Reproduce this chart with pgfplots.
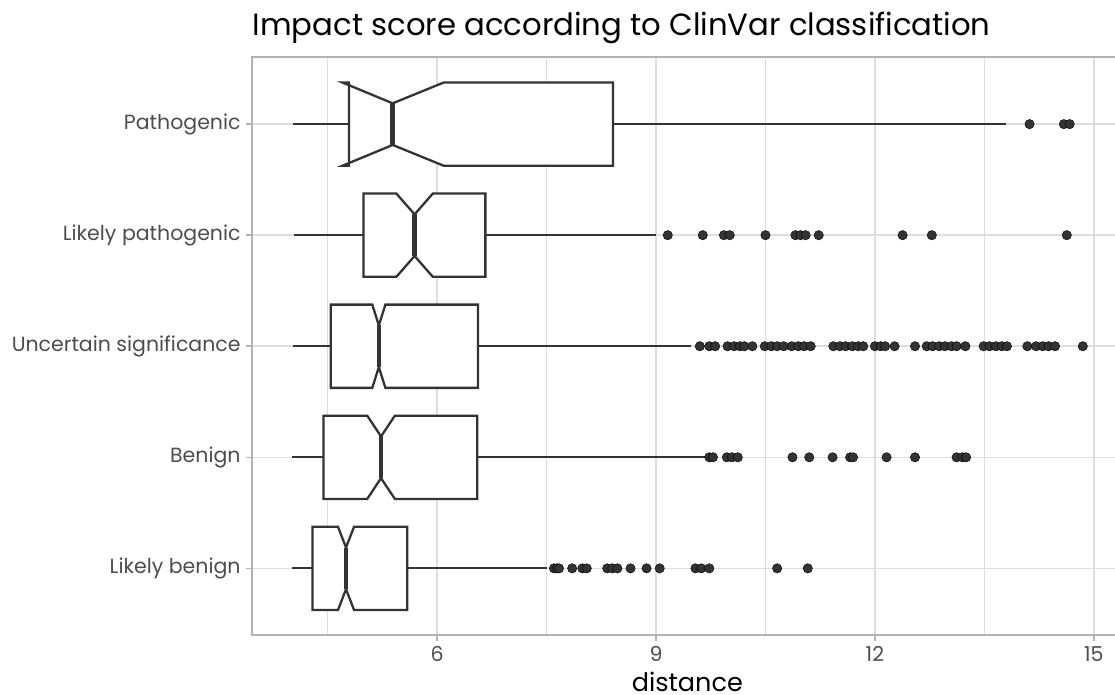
\documentclass[border=0pt]{standalone}
\usepackage{fontspec}
\setmainfont{Poppins}
\usepackage{pgfplots}
\pgfplotsset{compat=1.18}
\definecolor{g20}{HTML}{333333}
\definecolor{g30}{HTML}{4D4D4D}
\definecolor{g70}{HTML}{B3B3B3}
\definecolor{g87}{HTML}{DEDEDE}
\pgfplotsset{
  boxline/.style={draw=g20, fill=white, line width=2.3pt, line join=miter},
  whisk/.style={draw=g20, line width=2.2pt, forget plot},
  med/.style={draw=g20, line width=4.5pt},
  outl/.style={only marks, mark=*, mark size=4.7pt, mark options={fill=g20, draw=none}, draw=none},
}
\begin{document}
\begin{tikzpicture}
\useasboundingbox (-252.5pt,-60pt) rectangle (862.5pt,635pt);
\clip (-252.5pt,-60pt) rectangle (862.5pt,635pt);
\begin{axis}[
  at={(0pt,0pt)}, anchor=south west,
  scale only axis, width=869.7pt, height=577.5pt,
  xmin=3.468, xmax=15.39, ymin=0.4, ymax=5.6,
  axis line style={draw=g70, line width=2pt},
  xtick={6,9,12,15}, minor xtick={4.5,7.5,10.5,13.5},
  ytick={1,2,3,4,5},
  yticklabels={Likely benign, Benign, Uncertain significance, Likely pathogenic, Pathogenic},
  xmajorgrids, xminorgrids, ymajorgrids,
  major grid style={draw=g87, line width=1.6pt},
  minor grid style={draw=g87, line width=0.8pt},
  tick align=outside, tick pos=left,
  major tick length=6.2pt, minor tick length=0pt,
  tick style={draw=g70, line width=1.6pt},
  /pgf/number format/assume math mode=true,
  ticklabel style={font=\fontsize{20.5}{24}\selectfont, text=g30},
  xticklabel style={anchor=north, inner sep=0pt, yshift=-5pt},
  yticklabel style={anchor=east, inner sep=0pt, xshift=-5.5pt},
  title={Impact score according to ClinVar classification},
  title style={at={(rel axis cs:0,1)}, anchor=base west, yshift=15.8pt, inner sep=0pt, font=\fontsize{30.7}{36}\selectfont, text=black},
  xlabel={distance},
  xlabel style={at={(rel axis cs:0.5,0)}, anchor=base, yshift=-56pt, inner sep=0pt, font=\fontsize{25.5}{30}\selectfont, text=black},
]
% Pathogenic (y=5)
\addplot[whisk] coordinates {(4.03,5) (4.79,5)};
\addplot[whisk] coordinates {(8.41,5) (13.80,5)};
\addplot[boxline] coordinates {(4.79,5.375) (4.70,5.375) (5.39,5.1875) (6.09,5.375) (8.41,5.375) (8.41,4.625) (6.09,4.625) (5.39,4.8125) (4.70,4.625) (4.79,4.625)} -- cycle;
\addplot[med] coordinates {(5.39,4.8125) (5.39,5.1875)};
\addplot[outl] coordinates {(14.12,5) (14.59,5) (14.67,5)};
% Likely pathogenic (y=4)
\addplot[whisk] coordinates {(4.04,4) (4.99,4)};
\addplot[whisk] coordinates {(6.66,4) (9.00,4)};
\addplot[boxline] coordinates {(4.99,4.375) (5.44,4.375) (5.69,4.1875) (5.94,4.375) (6.66,4.375) (6.66,3.625) (5.94,3.625) (5.69,3.8125) (5.44,3.625) (4.99,3.625)} -- cycle;
\addplot[med] coordinates {(5.69,3.8125) (5.69,4.1875)};
\addplot[outl] coordinates {(9.16,4) (9.64,4) (9.93,4) (10.01,4) (10.50,4) (10.91,4) (10.98,4) (11.05,4) (11.23,4) (12.38,4) (12.78,4) (14.63,4)};
% Uncertain significance (y=3)
\addplot[whisk] coordinates {(4.02,3) (4.54,3)};
\addplot[whisk] coordinates {(6.56,3) (9.48,3)};
\addplot[boxline] coordinates {(4.54,3.375) (5.11,3.375) (5.20,3.1875) (5.29,3.375) (6.56,3.375) (6.56,2.625) (5.29,2.625) (5.20,2.8125) (5.11,2.625) (4.54,2.625)} -- cycle;
\addplot[med] coordinates {(5.20,2.8125) (5.20,3.1875)};
\addplot[outl] coordinates {(9.60,3) (9.73,3) (9.81,3) (9.98,3) (10.07,3) (10.15,3) (10.21,3) (10.32,3) (10.49,3) (10.58,3) (10.66,3) (10.75,3) (10.86,3) (10.95,3) (11.03,3) (11.12,3) (11.43,3) (11.52,3) (11.60,3) (11.69,3) (11.77,3) (11.84,3) (12.00,3) (12.08,3) (12.14,3) (12.27,3) (12.55,3) (12.71,3) (12.79,3) (12.88,3) (12.96,3) (13.05,3) (13.12,3) (13.24,3) (13.49,3) (13.57,3) (13.66,3) (13.74,3) (13.81,3) (14.09,3) (14.21,3) (14.30,3) (14.38,3) (14.47,3) (14.85,3)};
% Benign (y=2)
\addplot[whisk] coordinates {(4.01,2) (4.44,2)};
\addplot[whisk] coordinates {(6.55,2) (9.67,2)};
\addplot[boxline] coordinates {(4.44,2.375) (5.04,2.375) (5.23,2.1875) (5.42,2.375) (6.55,2.375) (6.55,1.625) (5.42,1.625) (5.23,1.8125) (5.04,1.625) (4.44,1.625)} -- cycle;
\addplot[med] coordinates {(5.23,1.8125) (5.23,2.1875)};
\addplot[outl] coordinates {(9.73,2) (9.78,2) (9.97,2) (10.04,2) (10.12,2) (10.87,2) (11.10,2) (11.42,2) (11.66,2) (11.70,2) (12.16,2) (12.55,2) (13.12,2) (13.20,2) (13.25,2)};
% Likely benign (y=1)
\addplot[whisk] coordinates {(4.01,1) (4.29,1)};
\addplot[whisk] coordinates {(5.59,1) (7.50,1)};
\addplot[boxline] coordinates {(4.29,1.375) (4.64,1.375) (4.75,1.1875) (4.86,1.375) (5.59,1.375) (5.59,0.625) (4.86,0.625) (4.75,0.8125) (4.64,0.625) (4.29,0.625)} -- cycle;
\addplot[med] coordinates {(4.75,0.8125) (4.75,1.1875)};
\addplot[outl] coordinates {(7.60,1) (7.64,1) (7.67,1) (7.85,1) (7.99,1) (8.05,1) (8.33,1) (8.40,1) (8.47,1) (8.65,1) (8.87,1) (9.05,1) (9.54,1) (9.62,1) (9.73,1) (10.66,1) (11.08,1)};
\end{axis}
\end{tikzpicture}
\end{document}
